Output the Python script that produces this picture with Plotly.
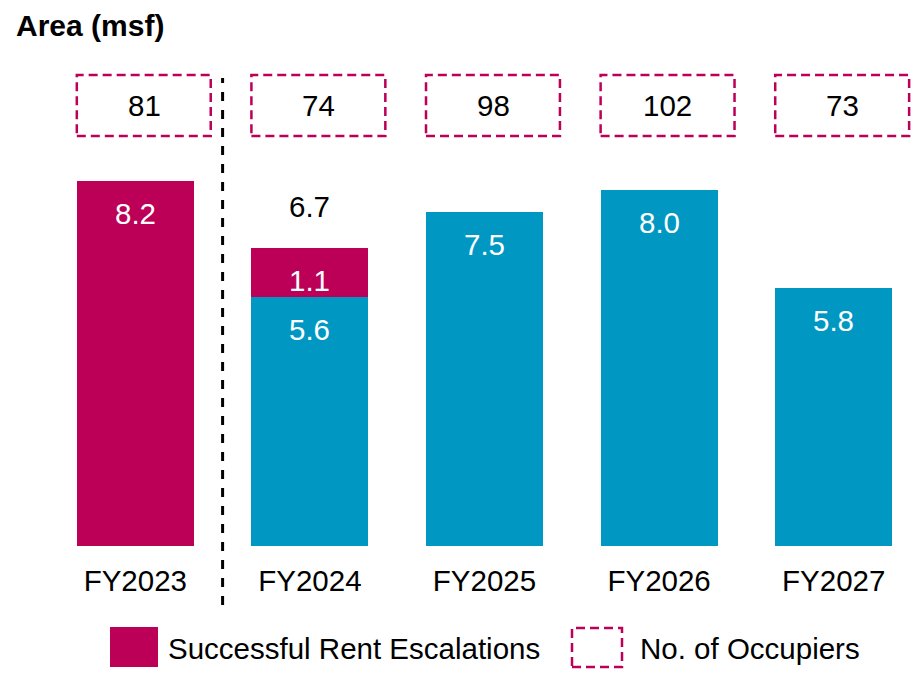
import plotly.graph_objects as go

categories = ["FY2023", "FY2024", "FY2025", "FY2026", "FY2027"]
base_area = [0, 5.6, 7.5, 8.0, 5.8]          # cyan
escalations = [8.2, 1.1, 0, 0, 0]            # magenta
occupiers = [81, 74, 98, 102, 73]

MAGENTA = "#BC0058"
CYAN = "#0098C3"
FONT = "Liberation Sans, Arial, sans-serif"
FS = 29.5

OFF = 8  # page body margin
W, H = 921 - OFF, 675 - OFF
L, T = 48 - OFF, 20 - OFF
BASE = 546 - OFF
R, B = 0, H - BASE
PW, PH = W - L - R, H - T - B
YMAX = PH / 44.5


def px_x(p):
    return (p - OFF - L) / PW


def px_y(p):
    return (BASE - (p - OFF)) / PH


idx = list(range(len(categories)))
fig = go.Figure()
fig.add_trace(go.Bar(x=idx, y=base_area, marker=dict(color=CYAN, line=dict(width=0)),
                     width=0.67, name="Base", showlegend=False))
fig.add_trace(go.Bar(x=idx, y=escalations, marker=dict(color=MAGENTA, line=dict(width=0)),
                     width=0.67, name="Successful Rent Escalations", showlegend=False))

annotations = []
shapes = []
for i in idx:
    b, e = base_area[i], escalations[i]
    if b > 0:
        annotations.append(dict(x=i, y=b, text=f"{b:.1f}", showarrow=False, yanchor="top",
                                yshift=-14, font=dict(color="white", size=FS, family=FONT)))
    if e > 0:
        annotations.append(dict(x=i, y=b + e, text=f"{e:.1f}", showarrow=False, yanchor="top",
                                yshift=-14, font=dict(color="white", size=FS, family=FONT)))
    if b > 0 and e > 0:
        annotations.append(dict(x=i, y=b + e, text=f"{b + e:.1f}", showarrow=False, yanchor="bottom",
                                yshift=23, font=dict(color="black", size=FS, family=FONT)))
    # occupier boxes
    shapes.append(dict(type="rect", xref="x", yref="paper", x0=i - 0.335, x1=i + 0.432,
                       y0=px_y(136), y1=px_y(75),
                       line=dict(color=MAGENTA, width=2.5, dash="9px,5px")))
    annotations.append(dict(x=i + 0.05, xref="x", y=px_y(106), yref="paper", text=str(occupiers[i]),
                            showarrow=False, yanchor="middle",
                            font=dict(color="black", size=FS, family=FONT)))

# divider
shapes.append(dict(type="line", xref="x", yref="paper", x0=0.5, x1=0.5, y0=px_y(605), y1=px_y(78),
                   line=dict(color="black", width=3, dash="9px,9px")))

# legend
shapes.append(dict(type="rect", xref="paper", yref="paper", x0=px_x(110), x1=px_x(158),
                   y0=px_y(667), y1=px_y(627), fillcolor=MAGENTA, line=dict(width=0)))
annotations.append(dict(xref="paper", yref="paper", x=px_x(166), y=px_y(648), xanchor="left",
                        yanchor="middle", showarrow=False, text="Successful Rent Escalations",
                        font=dict(color="black", size=FS, family=FONT)))
shapes.append(dict(type="rect", xref="paper", yref="paper", x0=px_x(572), x1=px_x(622),
                   y0=px_y(667), y1=px_y(628),
                   line=dict(color=MAGENTA, width=2.5, dash="9px,5px")))
annotations.append(dict(xref="paper", yref="paper", x=px_x(638), y=px_y(648), xanchor="left",
                        yanchor="middle", showarrow=False, text="No. of Occupiers",
                        font=dict(color="black", size=FS, family=FONT)))

# title
annotations.append(dict(xref="paper", yref="paper", x=px_x(15), y=px_y(8), xanchor="left",
                        yanchor="top", showarrow=False, text="<b>Area (msf)</b>", borderpad=0,
                        font=dict(color="black", size=30, family=FONT)))

fig.update_layout(
    width=W, height=H, barmode="stack",
    margin=dict(l=L, r=R, t=T, b=B, pad=0),
    plot_bgcolor="white", paper_bgcolor="white",
    xaxis=dict(tickmode="array", tickvals=idx, ticktext=categories, range=[-0.5, 4.5],
               showgrid=False, zeroline=False, showline=False, ticks="",
               tickfont=dict(size=FS, color="black", family=FONT), ticklabelstandoff=14),
    yaxis=dict(range=[0, YMAX], visible=False, showgrid=False, zeroline=False),
    shapes=shapes, annotations=annotations, showlegend=False,
)

fig.write_html("out.html")
